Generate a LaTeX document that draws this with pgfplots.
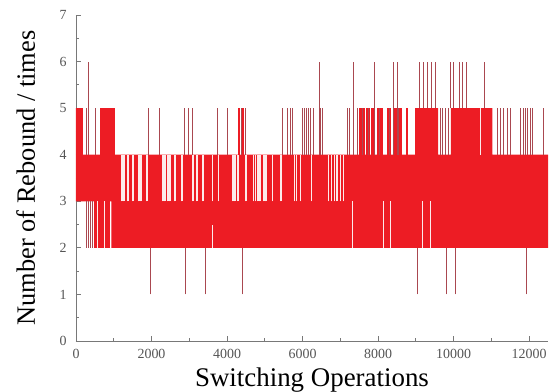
\documentclass[border=0pt]{standalone}
\usepackage{pgfplots}
\pgfplotsset{compat=1.18}
\usepackage{fontspec}
\setmainfont{Liberation Serif}
\definecolor{barred}{RGB}{237,28,36}
\definecolor{spk}{RGB}{170,72,80}
\definecolor{spkl}{RGB}{215,140,145}
\definecolor{axgray}{RGB}{120,120,120}
\definecolor{tickgray}{RGB}{85,85,85}
\definecolor{gapw}{RGB}{252,235,235}
\begin{document}
\begin{tikzpicture}
\path[use as bounding box] (-76bp,-51bp) rectangle (474bp,341bp);
\begin{axis}[
  at={(0,0)}, anchor=south west,
  scale only axis, width=472bp, height=326bp,
  xmin=0, xmax=12500, ymin=0, ymax=7,
  axis x line*=bottom, axis y line*=left,
  axis line style={axgray, line width=0.8bp},
  xtick={0,2000,...,12000}, ytick={0,1,...,7},
  minor x tick num=1, minor y tick num=1,
  tick align=inside,
  major tick length=5bp, minor tick length=3bp,
  every tick/.style={axgray, line width=0.8bp},
  /pgf/number format/assume math mode=true,
  /pgf/number format/1000 sep={},
  scaled x ticks=false,
  every tick label/.append style={font=\fontsize{14}{14}\selectfont, text=tickgray},
  xticklabel style={yshift=-5bp},
  yticklabel style={xshift=-6bp},
  xlabel={Switching Operations},
  ylabel={Number of Rebound / times},
  every axis x label/.style={at={(axis description cs:0.5,0)}, anchor=base, yshift=-45bp, font=\fontsize{27}{27}\selectfont},
  every axis y label/.style={at={([xshift=-41bp]axis description cs:0,0.5)}, rotate=90, anchor=base, font=\fontsize{26.5}{26.5}\selectfont},
  unbounded coords=jump,
]
% solid core of the trace
\addplot[fill=barred, draw=none] coordinates {
 (0,3)(0,5)(185,5)(185,4)(640,4)(640,5)(1030,5)(1030,4)(8980,4)(8980,5)(9590,5)(9590,4)
 (9930,4)(9930,5)(11030,5)(11030,4)(12500,4)(12500,2)(940,2)(940,3)(900,3)(900,2)(480,2)(480,3)
} -- cycle;
% white gaps in the 3-4 band
\addplot[gapw, line width=1.1bp] coordinates {
 (1219,3)(1219,4)(1219,nan) (1272,3)(1272,4)(1272,nan) (1377,3)(1377,4)(1377,nan)
 (1510,3)(1510,4)(1510,nan) (1669,3)(1669,4)(1669,nan) (1722,3)(1722,4)(1722,nan)
 (1881,3)(1881,4)(1881,nan) (2305,3)(2305,4)(2305,nan) (2358,3)(2358,4)(2358,nan)
 (2437,3)(2437,4)(2437,nan) (2490,3)(2490,4)(2490,nan) (2623,3)(2623,4)(2623,nan)
 (2808,3)(2808,4)(2808,nan) (3099,3)(3099,4)(3099,nan) (3205,3)(3205,4)(3205,nan)
 (3364,3)(3364,4)(3364,nan) (3603,3)(3603,4)(3603,nan) (3762,3)(3762,4)(3762,nan)
 (4159,3)(4159,4)(4159,nan) (4212,3)(4212,4)(4212,nan) (4291,3)(4291,4)(4291,nan)
 (4503,3)(4503,4)(4503,nan) (4689,3)(4689,4)(4689,nan) (4742,3)(4742,4)(4742,nan)
 (4821,3)(4821,4)(4821,nan) (4874,3)(4874,4)(4874,nan) (4980,3)(4980,4)(4980,nan)
 (5033,3)(5033,4)(5033,nan) (5192,3)(5192,4)(5192,nan) (5430,3)(5430,4)(5430,nan)
 (5775,3)(5775,4)(5775,nan) (5828,3)(5828,4)(5828,nan) (5934,3)(5934,4)(5934,nan)
 (6230,3)(6230,4)(6230,nan) (6675,3)(6675,4)(6675,nan) (6755,3)(6755,4)(6755,nan)
 (6834,3)(6834,4)(6834,nan) (6913,3)(6913,4)(6913,nan) (6993,3)(6993,4)(6993,nan)
 (7073,3)(7073,4)(7073,nan)
};
% white gaps in the 2-3 band and in the 4-5 blocks
\addplot[gapw, line width=0.9bp] coordinates {
 (556,2)(556,3)(556,nan) (742,2)(742,3)(742,nan)
 (3603,2)(3603,2.5)(3603,nan) (7311,2)(7311,3)(7311,nan) (8132,2)(8132,3)(8132,nan)
 (8318,2)(8318,3)(8318,nan) (9165,2)(9165,3)(9165,nan) (9377,2)(9377,3)(9377,nan)
 (10702,4)(10702,5)(10702,nan)
};
% dense red excursions to 5
\addplot[barred, line width=1.4bp] coordinates {
 (7523,4)(7523,5)(7523,nan) (7550,4)(7550,5)(7550,nan) (7603,4)(7603,5)(7603,nan)
 (7629,4)(7629,5)(7629,nan) (7709,4)(7709,5)(7709,nan) (7762,4)(7762,5)(7762,nan)
 (7841,4)(7841,5)(7841,nan) (7894,4)(7894,5)(7894,nan) (8000,4)(8000,5)(8000,nan)
 (8053,4)(8053,5)(8053,nan) (8106,4)(8106,5)(8106,nan) (8265,4)(8265,5)(8265,nan)
 (8318,4)(8318,5)(8318,nan) (8424,4)(8424,5)(8424,nan) (8477,4)(8477,5)(8477,nan)
 (8556,4)(8556,5)(8556,nan) (8609,4)(8609,5)(8609,nan) (8768,4)(8768,5)(8768,nan)
 (4318,4)(4318,5)(4318,nan) (4424,4)(4424,5)(4424,nan)
};
% thin excursions 4 -> 5
\addplot[spk, line width=0.7bp] coordinates {
 (265,4)(265,5)(265,nan) (503,4)(503,5)(503,nan) (1907,4)(1907,5)(1907,nan)
 (2199,4)(2199,5)(2199,nan) (2861,4)(2861,5)(2861,nan) (2967,4)(2967,5)(2967,nan)
 (3073,4)(3073,5)(3073,nan) (3735,4)(3735,5)(3735,nan) (4000,4)(4000,5)(4000,nan)
 (4371,4)(4371,5)(4371,nan) (4477,4)(4477,5)(4477,nan) (5457,4)(5457,5)(5457,nan)
 (5589,4)(5589,5)(5589,nan) (5669,4)(5669,5)(5669,nan) (5722,4)(5722,5)(5722,nan)
 (5987,4)(5987,5)(5987,nan) (6040,4)(6040,5)(6040,nan) (6093,4)(6093,5)(6093,nan)
 (6146,4)(6146,5)(6146,nan) (6199,4)(6199,5)(6199,nan) (6278,4)(6278,5)(6278,nan)
 (6464,4)(6464,5)(6464,nan) (6517,4)(6517,5)(6517,nan) (7179,4)(7179,5)(7179,nan)
 (7232,4)(7232,5)(7232,nan) (7444,4)(7444,5)(7444,nan) (7576,4)(7576,5)(7576,nan)
 (7735,4)(7735,5)(7735,nan) (8027,4)(8027,5)(8027,nan) (8291,4)(8291,5)(8291,nan)
 (8530,4)(8530,5)(8530,nan) (9642,4)(9642,5)(9642,nan) (9695,4)(9695,5)(9695,nan)
 (9775,4)(9775,5)(9775,nan) (9854,4)(9854,5)(9854,nan) (11152,4)(11152,5)(11152,nan)
 (11232,4)(11232,5)(11232,nan) (11311,4)(11311,5)(11311,nan) (11417,4)(11417,5)(11417,nan)
 (11497,4)(11497,5)(11497,nan) (11762,4)(11762,5)(11762,nan) (11841,4)(11841,5)(11841,nan)
 (11894,4)(11894,5)(11894,nan) (11947,4)(11947,5)(11947,nan) (12026,4)(12026,5)(12026,nan)
 (12079,4)(12079,5)(12079,nan) (12371,4)(12371,5)(12371,nan)
};
% excursions to 6
\addplot[spk, line width=0.7bp] coordinates {
 (318,4)(318,6)(318,nan) (6437,4)(6437,6)(6437,nan) (7338,4)(7338,6)(7338,nan)
 (7907,4)(7907,6)(7907,nan) (8397,4)(8397,6)(8397,nan) (8503,4)(8503,6)(8503,nan)
 (9086,5)(9086,6)(9086,nan) (9192,5)(9192,6)(9192,nan) (9298,5)(9298,6)(9298,nan)
 (9404,5)(9404,6)(9404,nan) (9510,5)(9510,6)(9510,nan) (9907,5)(9907,6)(9907,nan)
 (9987,5)(9987,6)(9987,nan) (10146,5)(10146,6)(10146,nan) (10225,5)(10225,6)(10225,nan)
 (10331,5)(10331,6)(10331,nan) (10808,5)(10808,6)(10808,nan)
};
% excursions down to 1, and early ones down to 2
\addplot[spk, line width=0.7bp] coordinates {
 (1960,1)(1960,2)(1960,nan) (2887,1)(2887,2)(2887,nan) (3417,1)(3417,2)(3417,nan)
 (4397,1)(4397,2)(4397,nan) (9033,1)(9033,2)(9033,nan) (9801,1)(9801,2)(9801,nan)
 (10040,1)(10040,2)(10040,nan) (11920,1)(11920,2)(11920,nan)
 (265,2)(265,3)(265,nan) (318,2)(318,3)(318,nan) (371,2)(371,3)(371,nan) (424,2)(424,3)(424,nan)
};
\end{axis}
\end{tikzpicture}
\end{document}
